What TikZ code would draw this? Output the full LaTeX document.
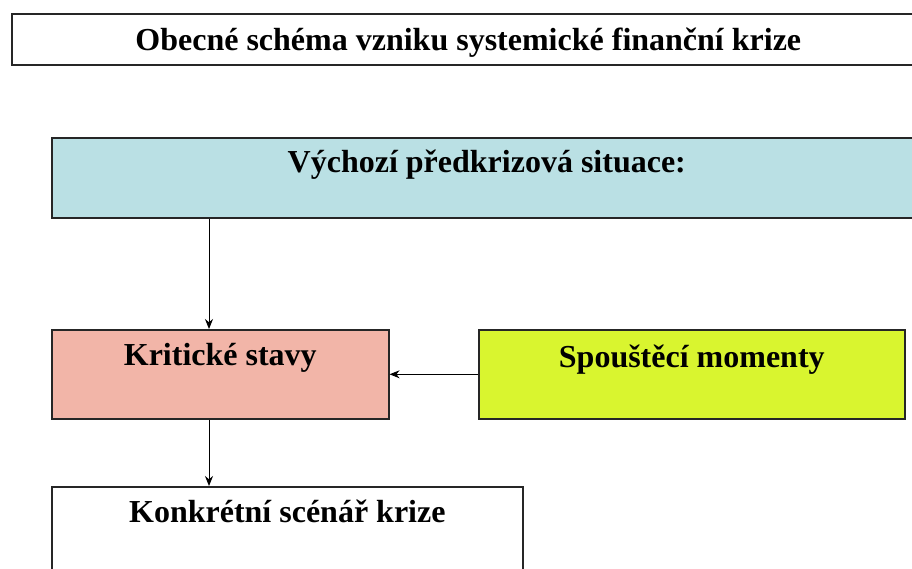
\documentclass[tikz,border=0pt]{standalone}
\usepackage{fontspec}
\setmainfont{Liberation Serif}
\usepackage{tikz}
\usetikzlibrary{arrows.meta,calc}
\definecolor{sitblue}{RGB}{186,224,228}
\definecolor{kritpink}{RGB}{242,181,168}
\definecolor{spoustgreen}{RGB}{217,245,47}

\begin{document}
\begin{tikzpicture}[x=1pt,y=-1pt,inner sep=0pt,font=\fontsize{32}{38}\selectfont\bfseries]
\tikzstyle{every node}=[draw=black!85,line width=1.6pt,rectangle,anchor=north west]
\tikzstyle{arr}=[line width=1pt,-{Stealth[length=10pt,width=8pt]}]
\useasboundingbox (0,0) rectangle (912,569);
\clip (0,0) rectangle (912,569);
\node (title) at (11,13) [minimum width=913pt,text height=37pt,text depth=14pt] {Obecné schéma vzniku systemické finanční krize};
\node (sit) at (51,137) [fill=sitblue,minimum width=870pt,text height=35pt,text depth=45pt] {Výchozí předkrizová situace:};
\node (krit) at (51,329) [fill=kritpink,minimum width=337pt,text height=36pt,text depth=53pt] {Kritické stavy};
\node (spoust) at (478,329) [fill=spoustgreen,minimum width=426pt,text height=38pt,text depth=51pt] {Spouštěcí momenty};
\node (scen) at (51,486) [minimum width=471pt,text height=36pt,text depth=120pt] {Konkrétní scénář krize};
\coordinate (arrx) at (209,0);
\draw[arr] (sit.south -| arrx) -- (krit.north -| arrx);
\draw[arr] (spoust.west) -- (krit.east |- spoust.west);
\draw[arr] (krit.south -| arrx) -- (scen.north -| arrx);
\end{tikzpicture}
\end{document}
